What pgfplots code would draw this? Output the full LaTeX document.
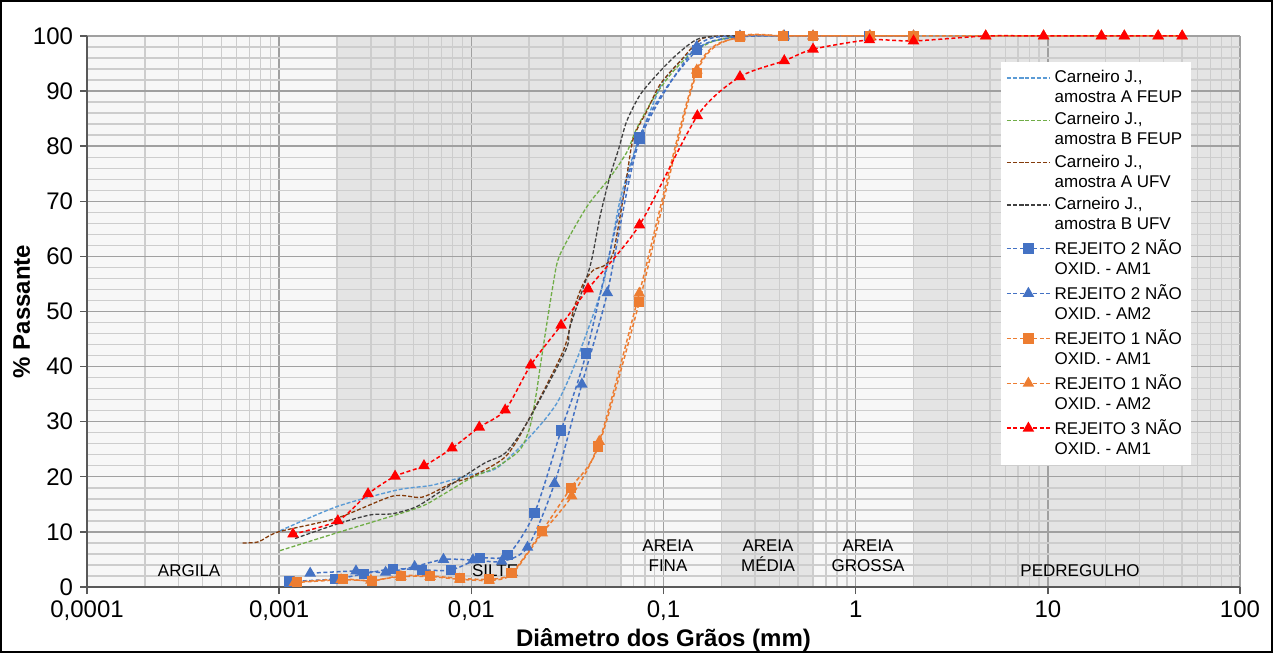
\documentclass[border=0pt]{standalone}
\usepackage{fontspec}
\setmainfont{Liberation Sans}
\usepackage{pgfplots}
\pgfplotsset{compat=1.18}
\definecolor{cAF}{HTML}{5B9BD5}
\definecolor{cBF}{HTML}{70AD47}
\definecolor{cAU}{HTML}{843C0C}
\definecolor{cBU}{HTML}{404040}
\definecolor{cR2}{HTML}{4472C4}
\definecolor{cR1}{HTML}{ED7D31}
\definecolor{cR3}{HTML}{FF0000}
\definecolor{shL}{HTML}{F7F7F7}
\definecolor{shD}{HTML}{E4E4E4}
\definecolor{gmaj}{HTML}{A0A0A0}
\definecolor{gmin}{HTML}{CDCDCD}
\definecolor{axg}{HTML}{595959}
\begin{document}
\begin{tikzpicture}[x=1pt,y=1pt]
\begin{axis}[
  set layers,
  at={(43.5pt,33pt)}, anchor=south west,
  scale only axis, width=576.5pt, height=275.5pt,
  xmode=log, xmin=0.0001, xmax=100, ymin=0, ymax=100,
  clip=false,
  xtick={0.0001,0.001,0.01,0.1,1,10,100},
  xticklabels={0{,}0001,0{,}001,0{,}01,0{,}1,1,10,100},
  minor xtick={0.0002,0.0003,0.0004,0.0005,0.0006,0.0007,0.0008,0.0009,
    0.002,0.003,0.004,0.005,0.006,0.007,0.008,0.009,
    0.02,0.03,0.04,0.05,0.06,0.07,0.08,0.09,
    0.2,0.3,0.4,0.5,0.6,0.7,0.8,0.9,
    2,3,4,5,6,7,8,9,20,30,40,50,60,70,80,90},
  ytick={0,10,20,30,40,50,60,70,80,90,100},
  yticklabels={0,10,20,30,40,50,60,70,80,90,100},
  minor ytick={2,4,6,8,12,14,16,18,22,24,26,28,32,34,36,38,42,44,46,48,
    52,54,56,58,62,64,66,68,72,74,76,78,82,84,86,88,92,94,96,98},
  grid=both,
  major grid style={draw=gmaj, line width=0.7pt},
  minor grid style={draw=gmin, line width=0.7pt},
  axis x line*=bottom, axis y line*=left,
  axis line style={draw=axg, line width=1pt, -},
  tick align=outside, major tick length=3.5pt, minor tick length=0pt,
  major tick style={draw=axg, line width=0.7pt},
  tick label style={font=\fontsize{12}{14}\selectfont},
  xlabel={Diâmetro dos Grãos (mm)},
  ylabel={\% Passante},
  label style={font=\fontsize{12}{14}\selectfont\bfseries},
  xlabel style={yshift=3pt},
  ylabel style={yshift=-5.5pt},
  legend style={at={(rel axis cs:0.958,0.953)}, anchor=north east,
    draw=none, fill=white, font=\fontsize{8.5}{10}\selectfont,
    cells={align=left}, row sep=-0.5pt, inner xsep=2.5pt, inner ysep=2pt},
  legend cell align=left,
  legend image code/.code={\begin{scope}[yshift=5pt]\draw[mark repeat=2,mark phase=2,#1] plot coordinates {(0pt,0pt)(10.75pt,0pt)(21.5pt,0pt)};\end{scope}},
  every axis plot/.append style={smooth, tension=0.45},
]
\begin{pgfonlayer}{axis background}
\fill[shL] (axis cs:0.0001,0) rectangle (axis cs:100,100);
\fill[shD] (axis cs:0.002,0) rectangle (axis cs:0.06,100);
\fill[shD] (axis cs:0.2,0) rectangle (axis cs:0.6,100);
\fill[shD] (axis cs:2,0) rectangle (axis cs:100,100);
\end{pgfonlayer}

% Carneiro J., amostra A FEUP
\addplot[cAF, line width=0.7pt, dash pattern=on 2pt off 1pt] coordinates {
(0.00101,10.2)(0.002,14.6)(0.0041,17.6)(0.0061,18.4)(0.0077,19.3)(0.01,20.4)
(0.0136,21.6)(0.0202,27.3)(0.0278,33.3)(0.0353,41.2)(0.0486,55.1)(0.0594,70.2)
(0.0711,79.3)(0.0851,86.3)(0.0998,91.8)(0.127,96)(0.168,98.7)(0.25,100)};
\addlegendentry{Carneiro J.,\\amostra A FEUP}
% Carneiro J., amostra B FEUP
\addplot[cBF, line width=0.65pt, dash pattern=on 2pt off 1pt] coordinates {
(0.00101,6.6)(0.00207,10)(0.0052,14.3)(0.0069,16.5)(0.00986,19.7)(0.01356,21.8)
(0.0179,24.9)(0.0202,29.1)(0.0218,35.2)(0.0231,41.2)(0.0267,55.1)(0.029,60.4)
(0.0399,69)(0.0526,74.3)(0.0644,78.9)(0.0727,83.3)(0.0887,88.7)(0.1087,93)
(0.137,96.6)(0.18,99)(0.25,100)};
\addlegendentry{Carneiro J.,\\amostra B FEUP}
% Carneiro J., amostra A UFV
\addplot[cAU, line width=0.65pt, dash pattern=on 2pt off 1pt] coordinates {
(0.000645,8.0)(0.00078,8.2)(0.00099,10.0)(0.002,12.5)(0.0039,16.5)(0.00554,16.3)
(0.00787,18.8)(0.01,20.0)(0.015,23.6)(0.0194,29.7)(0.0302,43)(0.034,50.3)
(0.0383,55.1)(0.0431,57.5)(0.0496,58.4)(0.0547,60.6)(0.0594,67.2)(0.0644,74.5)
(0.0697,81.5)(0.0817,86.3)(0.096,91.2)(0.122,95.4)(0.161,99.6)(0.25,100)};
\addlegendentry{Carneiro J.,\\amostra A UFV}
% Carneiro J., amostra B UFV
\addplot[cBU, line width=0.65pt, dash pattern=on 2pt off 1pt] coordinates {
(0.00121,8.8)(0.00207,11.6)(0.0030,13.1)(0.0039,13.3)(0.0052,14.6)(0.0071,17.6)
(0.0116,22.4)(0.015,24.3)(0.0194,29.7)(0.0310,43)(0.0326,47.2)(0.0414,58.1)
(0.0467,67.2)(0.0526,74.5)(0.0582,79.3)(0.0643,84.5)(0.0755,89.3)(0.0925,93)
(0.117,96.6)(0.155,99.6)(0.25,100)};
\addlegendentry{Carneiro J.,\\amostra B UFV}
% REJEITO 2 NAO OXID - AM1
\addplot[cR2, line width=0.75pt, dash pattern=on 2pt off 1.3pt, mark=square*, mark size=2.2pt, mark options={solid}] coordinates {
(0.00113,1.0)(0.00196,1.45)(0.00276,2.4)(0.00391,3.3)(0.00554,3.1)(0.00787,3.1)
(0.0111,5.2)(0.0154,5.75)(0.0213,13.4)(0.0293,28.4)(0.0396,42.4)(0.075,81.6)
(0.15,97.5)(0.25,99.8)(0.425,100)(0.6,100)(1.18,100)(2.0,100)};
\addlegendentry{REJEITO 2 NÃO\\OXID. - AM1}
% REJEITO 2 NAO OXID - AM2
\addplot[cR2, line width=0.75pt, dash pattern=on 2pt off 1.3pt, mark=triangle*, mark size=2.6pt, mark options={solid}] coordinates {
(0.00145,2.5)(0.00251,2.9)(0.00358,2.66)(0.00507,3.7)(0.00716,5.0)(0.0102,4.9)
(0.0144,4.65)(0.0196,7.2)(0.0271,18.8)(0.0376,36.8)(0.051,53.4)(0.075,81)
(0.149,98.1)(0.25,100)(0.425,100)(0.6,100)(1.18,100)(2.0,100)};
\addlegendentry{REJEITO 2 NÃO\\OXID. - AM2}
% REJEITO 1 NAO OXID - AM1
\addplot[cR1, line width=0.75pt, dash pattern=on 2pt off 1.3pt, mark=square*, mark size=2.2pt, mark options={solid}] coordinates {
(0.00124,0.9)(0.00214,1.45)(0.00303,1.1)(0.00429,2.05)(0.0061,2.0)(0.0087,1.57)
(0.0124,1.4)(0.0162,2.5)(0.0234,10.2)(0.0329,18.0)(0.0458,25.5)(0.0748,51.7)
(0.149,93.3)(0.25,99.9)(0.42,100)(0.6,100)(1.19,100)(2.0,100)};
\addlegendentry{REJEITO 1 NÃO\\OXID. - AM1}
% REJEITO 1 NAO OXID - AM2
\addplot[cR1, line width=0.75pt, dash pattern=on 2pt off 1.3pt, mark=triangle*, mark size=2.6pt, mark options={solid}] coordinates {
(0.0012,0.8)(0.0021,1.3)(0.003,1.2)(0.0043,1.9)(0.0061,1.9)(0.0087,1.4)
(0.0124,1.2)(0.0162,2.3)(0.0234,9.8)(0.0333,16.5)(0.0463,26.4)(0.0748,53.3)
(0.149,93.8)(0.25,99.8)(0.42,100)(0.6,100)(1.19,100)(2.0,100)(4.75,100)
(9.5,100)(19,100)(25,100)(37.5,100)(50,100)};
\addlegendentry{REJEITO 1 NÃO\\OXID. - AM2}
% REJEITO 3 NAO OXID - AM1
\addplot[cR3, line width=0.75pt, dash pattern=on 2pt off 1.3pt, mark=triangle*, mark size=2.6pt, mark options={solid}] coordinates {
(0.00118,9.6)(0.00202,12.0)(0.0029,16.9)(0.00401,20.1)(0.00567,22.0)(0.00794,25.2)
(0.011,29.0)(0.015,32.1)(0.0204,40.3)(0.0293,47.5)(0.0405,54.1)(0.075,65.7)
(0.15,85.5)(0.25,92.6)(0.425,95.5)(0.6,97.6)(1.18,99.3)(2.0,99.1)(4.75,100)
(9.5,100)(19,100)(25,100)(37.5,100)(50,100)};
\addlegendentry{REJEITO 3 NÃO\\OXID. - AM1}

\begin{scope}[font=\fontsize{8.5}{10}\selectfont]
\node[align=center] at (axis cs:0.00034,2.9) {ARGILA};
\node[align=center] at (axis cs:0.0133,2.9) {SILTE};
\node[align=center] at (axis cs:0.1055,5.6) {AREIA\\FINA};
\node[align=center] at (axis cs:0.35,5.6) {AREIA\\MÉDIA};
\node[align=center] at (axis cs:1.16,5.6) {AREIA\\GROSSA};
\node[align=center] at (axis cs:14.7,2.9) {PEDREGULHO};
\end{scope}
\end{axis}
\draw[black, line width=1pt] (0.5,0.5) rectangle (636,326);
\pgfresetboundingbox
\useasboundingbox (0,0) rectangle (636.5,326.5);
\end{tikzpicture}
\end{document}
